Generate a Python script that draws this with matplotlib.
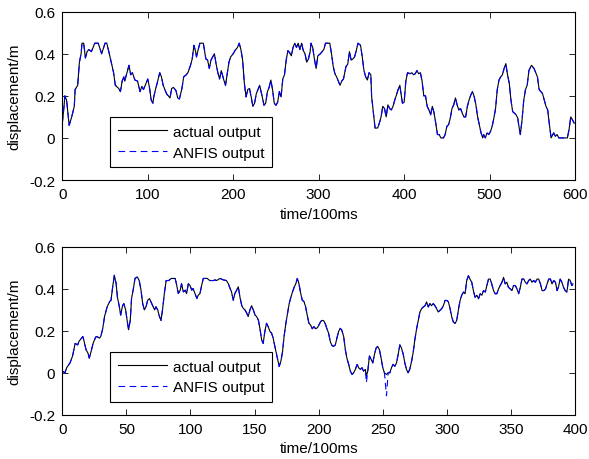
import matplotlib
matplotlib.use("Agg")
import matplotlib.pyplot as plt
from matplotlib.ticker import FixedLocator, FuncFormatter

plt.rcParams['font.family'] = ['Liberation Sans', 'DejaVu Sans']
plt.rcParams['axes.unicode_minus'] = False

# ---------------- data: top panel ----------------
t_top = [0, 2, 3, 5, 8, 11, 14, 15, 18, 20, 22, 23, 25, 27, 29, 31, 34, 36, 38, 42,
         46, 50, 52, 55, 58, 60, 62, 66, 68, 70, 72, 73, 75, 78, 80, 82, 85, 88, 91, 93,
         95, 98, 100, 102, 104, 106, 107, 109, 111, 114, 116, 118, 120, 122, 124, 126, 128, 130, 133, 135,
         137, 140, 142, 145, 147, 150, 152, 154, 156, 157, 159, 161, 165, 168, 170, 172, 174, 176, 178, 180,
         182, 184, 186, 189, 191, 193, 195, 197, 200, 202, 205, 207, 209, 211, 213, 215, 217, 219, 221, 223,
         225, 227, 229, 231, 232, 234, 236, 238, 240, 242, 244, 246, 248, 250, 252, 254, 256, 258, 260, 262,
         264, 266, 268, 270, 272, 274, 276, 278, 280, 282, 284, 286, 288, 290, 291, 293, 295, 297, 299, 302,
         306, 308, 313, 315, 317, 319, 321, 323, 325, 327, 329, 332, 334, 336, 338, 340, 342, 344, 346, 349,
         351, 353, 355, 357, 359, 361, 362, 364, 366, 369, 371, 373, 375, 377, 379, 381, 383, 385, 387, 389,
         391, 393, 395, 396, 398, 400, 402, 404, 407, 409, 411, 413, 415, 417, 419, 421, 423, 425, 427, 429,
         431, 433, 435, 437, 439, 441, 443, 446, 448, 450, 452, 454, 456, 458, 460, 462, 464, 466, 468, 470,
         472, 474, 476, 478, 480, 482, 484, 486, 488, 490, 492, 493, 495, 497, 499, 501, 503, 505, 507, 509,
         511, 513, 515, 517, 519, 521, 523, 525, 527, 529, 531, 533, 534, 536, 538, 540, 542, 544, 546, 549,
         552, 554, 556, 558, 560, 562, 564, 566, 568, 570, 572, 574, 575, 577, 579, 581, 591, 593, 595, 597,
         599]
actual_top = [0.07, 0.15, 0.20, 0.18, 0.06, 0.10, 0.15, 0.23, 0.25, 0.36, 0.40, 0.45, 0.45, 0.38, 0.41, 0.42, 0.41, 0.43, 0.45, 0.45,
              0.40, 0.45, 0.45, 0.40, 0.345, 0.31, 0.25, 0.235, 0.22, 0.27, 0.29, 0.27, 0.30, 0.345, 0.30, 0.31, 0.275, 0.27, 0.22, 0.245,
              0.23, 0.26, 0.28, 0.24, 0.18, 0.165, 0.195, 0.23, 0.26, 0.31, 0.29, 0.25, 0.23, 0.21, 0.20, 0.19, 0.235, 0.24, 0.225, 0.19,
              0.185, 0.235, 0.29, 0.30, 0.31, 0.345, 0.375, 0.44, 0.41, 0.385, 0.42, 0.45, 0.45, 0.375, 0.37, 0.33, 0.37, 0.385, 0.40, 0.35,
              0.31, 0.28, 0.32, 0.275, 0.25, 0.305, 0.36, 0.385, 0.40, 0.415, 0.43, 0.45, 0.42, 0.37, 0.26, 0.195, 0.23, 0.235, 0.195, 0.15,
              0.165, 0.21, 0.23, 0.25, 0.23, 0.195, 0.155, 0.165, 0.22, 0.24, 0.275, 0.23, 0.165, 0.155, 0.17, 0.22, 0.195, 0.28, 0.30, 0.37,
              0.415, 0.405, 0.39, 0.43, 0.45, 0.43, 0.45, 0.42, 0.45, 0.415, 0.40, 0.36, 0.375, 0.41, 0.45, 0.43, 0.375, 0.33, 0.39, 0.40,
              0.42, 0.45, 0.45, 0.40, 0.34, 0.305, 0.29, 0.27, 0.25, 0.27, 0.28, 0.34, 0.35, 0.41, 0.37, 0.375, 0.385, 0.415, 0.45, 0.44,
              0.385, 0.32, 0.29, 0.275, 0.31, 0.30, 0.195, 0.12, 0.047, 0.047, 0.07, 0.10, 0.15, 0.14, 0.10, 0.157, 0.14, 0.133, 0.15, 0.18,
              0.204, 0.23, 0.25, 0.22, 0.165, 0.17, 0.27, 0.31, 0.305, 0.31, 0.30, 0.305, 0.32, 0.305, 0.31, 0.27, 0.20, 0.20, 0.15, 0.133,
              0.11, 0.15, 0.12, 0.07, 0.016, 0.016, 0.0, 0.0, 0.016, 0.055, 0.063, 0.094, 0.14, 0.157, 0.19, 0.157, 0.133, 0.14, 0.118, 0.10,
              0.10, 0.15, 0.18, 0.204, 0.22, 0.196, 0.157, 0.10, 0.063, 0.024, 0.0, 0.016, 0.0, 0.024, 0.016, 0.03, 0.055, 0.094, 0.14, 0.23,
              0.275, 0.29, 0.30, 0.33, 0.353, 0.30, 0.26, 0.18, 0.125, 0.118, 0.11, 0.094, 0.063, 0.016, 0.086, 0.18, 0.23, 0.25, 0.32, 0.345,
              0.33, 0.31, 0.29, 0.23, 0.22, 0.21, 0.18, 0.15, 0.133, 0.063, 0.0, 0.016, 0.024, 0.008, 0.016, 0.0, 0.0, 0.04, 0.10, 0.086,
              0.07]
anfis_top = list(actual_top)

# ---------------- data: bottom panel ----------------
t_bot = [0, 2, 3.4, 6, 8, 10, 12, 13, 16, 17, 18.5, 20, 21, 22.4, 24, 26, 27, 29, 30, 31.5,
         33, 35, 37, 38, 39.3, 40.6, 42, 43, 44.5, 45.5, 47, 48, 49.4, 50.7, 51.7, 53, 54, 55.4, 56.7, 58.5,
         60, 61.4, 62.7, 64, 65.3, 66.6, 68, 69, 70.5, 72, 73, 74.4, 75.7, 77, 78.3, 79.6, 81, 83, 85, 88,
         89, 90.5, 92, 93, 94.4, 96, 97, 98.3, 99.6, 101, 102, 103.5, 105, 106, 107.4, 108.7, 110, 113, 115, 118,
         119, 120.4, 123, 125.6, 128, 129.5, 131, 132, 133.4, 134.6, 136, 137.3, 138.6, 140, 141.2, 142.5, 144, 145, 146.4, 147.7,
         149, 150.3, 151.6, 153, 154.2, 155.5, 156.7, 158, 159.3, 160.6, 162, 163.2, 164.5, 165.8, 167.2, 168.4, 169.2, 170.5, 171.8, 173,
         174.4, 175.7, 177, 178.3, 179.6, 181, 182.2, 183.3, 184.6, 186, 187.2, 188.5, 189.8, 191, 192.4, 193.7, 195, 196.3, 197.6, 199,
         200.2, 201.5, 202.7, 204, 205.4, 206.4, 207.7, 209, 210.3, 211.6, 213, 214.2, 215.5, 216.8, 218, 219.5, 220.8, 222, 223.4, 224.7,
         226, 227.3, 228.6, 230, 231.2, 232.5, 233.8, 235, 236.4, 237.2, 238.3, 239.6, 241, 242.2, 243.5, 244.8, 246, 247.4, 248.7, 250,
         251.3, 252.9, 254.2, 255.5, 256.8, 258, 259.4, 260.7, 262, 263.3, 264.6, 266, 267.2, 268.5, 269.8, 271, 272.5, 273.8, 275, 276.4,
         277.7, 279, 280.3, 281.6, 283, 284.2, 285.5, 286.8, 288, 289.4, 290.7, 292, 293.3, 294.6, 296, 297.3, 298.6, 300, 301.2, 302.5,
         303.8, 305, 306.4, 307.7, 309, 310.3, 311.6, 313, 314.2, 315.5, 316.8, 318, 319.4, 320.7, 322, 323.4, 324.7, 326, 327.3, 328.6,
         330, 331.2, 332.5, 333.8, 335, 336.4, 337.7, 339, 340.3, 341.6, 343, 344.2, 345.5, 346.8, 348, 349.5, 350.8, 352, 353.4, 354.7,
         356, 357.3, 358.6, 360, 361.2, 362.5, 363.8, 365, 366.4, 367.7, 369, 370.4, 371.6, 373, 374.3, 375.6, 377, 378.2, 379.5, 380.8,
         382, 383.4, 384.7, 386, 387, 388.4, 389.7, 391, 392.3, 393.6, 395, 396.2, 397.5, 398.3]
actual_bot = [0.008, 0.0, 0.024, 0.047, 0.08, 0.14, 0.133, 0.15, 0.173, 0.15, 0.11, 0.094, 0.07, 0.10, 0.14, 0.17, 0.173, 0.165, 0.173, 0.21,
              0.27, 0.315, 0.34, 0.346, 0.41, 0.465, 0.425, 0.36, 0.315, 0.275, 0.32, 0.33, 0.30, 0.244, 0.205, 0.25, 0.354, 0.40, 0.45, 0.457,
              0.44, 0.394, 0.33, 0.30, 0.315, 0.346, 0.354, 0.34, 0.32, 0.30, 0.315, 0.30, 0.27, 0.25, 0.307, 0.378, 0.44, 0.44, 0.45, 0.45,
              0.425, 0.378, 0.394, 0.425, 0.386, 0.394, 0.378, 0.425, 0.417, 0.394, 0.402, 0.378, 0.354, 0.37, 0.378, 0.417, 0.45, 0.45, 0.44, 0.44,
              0.443, 0.44, 0.45, 0.443, 0.44, 0.425, 0.40, 0.386, 0.346, 0.378, 0.394, 0.41, 0.36, 0.32, 0.307, 0.30, 0.283, 0.268, 0.30, 0.32,
              0.30, 0.276, 0.268, 0.25, 0.21, 0.157, 0.14, 0.197, 0.236, 0.22, 0.197, 0.19, 0.165, 0.126, 0.087, 0.055, 0.03, 0.055, 0.10, 0.173,
              0.236, 0.283, 0.33, 0.36, 0.386, 0.41, 0.425, 0.45, 0.425, 0.378, 0.346, 0.34, 0.315, 0.276, 0.236, 0.228, 0.21, 0.22, 0.21, 0.215,
              0.228, 0.244, 0.25, 0.248, 0.23, 0.21, 0.19, 0.15, 0.13, 0.126, 0.133, 0.165, 0.196, 0.212, 0.204, 0.173, 0.11, 0.07, 0.04, 0.008,
              -0.008, 0.0, 0.016, 0.04, 0.024, 0.016, 0.024, 0.008, 0.016, -0.015, 0.008, 0.08, 0.063, 0.047, 0.087, 0.118, 0.126, 0.11, 0.07, 0.024,
              0.0, -0.008, 0.0, 0.0, 0.024, 0.04, 0.031, 0.047, 0.087, 0.133, 0.118, 0.087, 0.047, 0.016, 0.0, 0.016, 0.055, 0.10, 0.157, 0.21,
              0.25, 0.29, 0.306, 0.314, 0.32, 0.338, 0.314, 0.33, 0.32, 0.33, 0.32, 0.306, 0.29, 0.298, 0.306, 0.32, 0.345, 0.345, 0.338, 0.306,
              0.267, 0.243, 0.235, 0.25, 0.30, 0.345, 0.37, 0.385, 0.377, 0.44, 0.463, 0.447, 0.432, 0.392, 0.36, 0.37, 0.353, 0.377, 0.37, 0.392,
              0.385, 0.416, 0.447, 0.447, 0.424, 0.392, 0.377, 0.377, 0.40, 0.416, 0.432, 0.455, 0.424, 0.432, 0.408, 0.40, 0.392, 0.416, 0.416, 0.40,
              0.377, 0.408, 0.447, 0.447, 0.432, 0.424, 0.44, 0.447, 0.432, 0.44, 0.432, 0.447, 0.447, 0.424, 0.392, 0.392, 0.40, 0.424, 0.447, 0.447,
              0.424, 0.44, 0.432, 0.392, 0.408, 0.447, 0.432, 0.408, 0.392, 0.385, 0.447, 0.44, 0.416, 0.424]
anfis_bot_overrides = {237.2: -0.047, 252.9: -0.11}
anfis_bot = [anfis_bot_overrides.get(t, v) for t, v in zip(t_bot, actual_bot)]

y_ticks = [-0.2, 0, 0.2, 0.4, 0.6]
x_ticks_top = [0, 100, 200, 300, 400, 500, 600]
x_ticks_bot = [0, 50, 100, 150, 200, 250, 300, 350, 400]
labels = ["actual output", "ANFIS output"]
xlabel = "time/100ms"
ylabel = "displacement/m"

fig = plt.figure(figsize=(5.89, 4.60), dpi=100)
ax1 = fig.add_axes([0.1058, 0.6065, 0.8705, 0.366])
ax2 = fig.add_axes([0.1058, 0.0963, 0.8705, 0.3646])

fmt = FuncFormatter(lambda v, p: f"{v:g}")

for ax, t, a, f, xt in [(ax1, t_top, actual_top, anfis_top, x_ticks_top),
                        (ax2, t_bot, actual_bot, anfis_bot, x_ticks_bot)]:
    ax.plot(t, a, color='black', lw=0.8, label=labels[0])
    ax.plot(t, f, color='blue', lw=0.8, dashes=(6, 4), label=labels[1])
    ax.set_xlim(xt[0], xt[-1])
    ax.set_ylim(y_ticks[0], y_ticks[-1])
    ax.xaxis.set_major_locator(FixedLocator(xt))
    ax.yaxis.set_major_locator(FixedLocator(y_ticks))
    ax.xaxis.set_major_formatter(fmt)
    ax.yaxis.set_major_formatter(fmt)
    ax.tick_params(direction='in', top=True, right=True, length=4, width=0.6,
                   labelsize=11, pad=5)
    for s in ax.spines.values():
        s.set_linewidth(0.8)
    ax.set_xlabel(xlabel, fontsize=11, labelpad=4)
    ax.set_ylabel(ylabel, fontsize=11, labelpad=6)
    leg = ax.legend(loc='upper left', bbox_to_anchor=(0.093, 0.374), fontsize=11,
                    frameon=True, fancybox=False, framealpha=1, edgecolor='black',
                    borderaxespad=0, handlelength=3.2, handletextpad=0.4,
                    borderpad=0.5, labelspacing=0.45)
    leg.get_frame().set_linewidth(0.8)

fig.savefig("out.png", dpi=100)
